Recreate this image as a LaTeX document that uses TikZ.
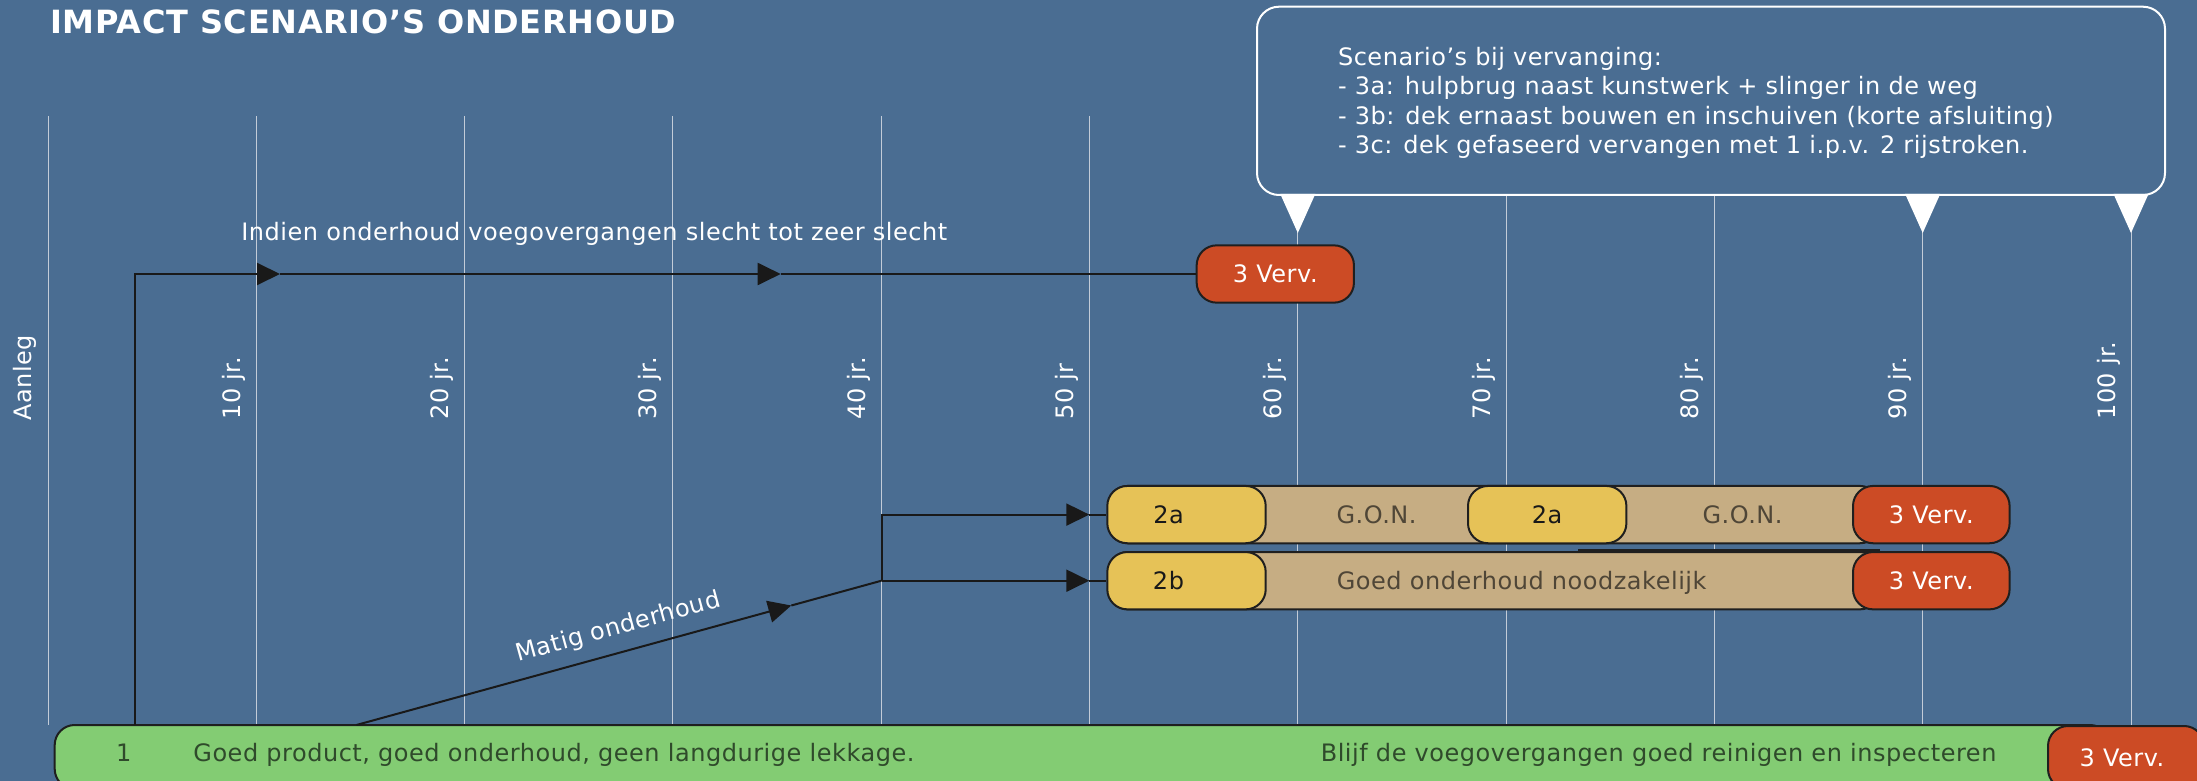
\documentclass[tikz,border=0pt]{standalone}
\usepackage{fontspec}
\setmainfont[LetterSpace=2.2]{DejaVu Sans}
\usetikzlibrary{arrows.meta}
\definecolor{bgc}{HTML}{4A6D92}
\definecolor{gridc}{HTML}{C3CCD8}
\definecolor{redc}{HTML}{CC4B25}
\definecolor{yelc}{HTML}{E6C257}
\definecolor{tanc}{HTML}{C6AD83}
\definecolor{grnc}{HTML}{83CC73}
\definecolor{tant}{HTML}{4F4637}
\definecolor{grnt}{HTML}{2F4A2B}
\newcommand{\PX}{*0.5pt}
\begin{document}
\begin{tikzpicture}[x=0.5pt,y=-0.5pt,
  txt/.style={font=\fontsize{12}{14}\selectfont, inner sep=0},
  wtxt/.style={txt, text=white},
  bar/.style={draw=black!88, line width=1pt, rounded corners=10pt, inner sep=0,
    font=\fontsize{12}{14}\selectfont},
  ybox/.style={bar, fill=yelc, text=black!90, minimum height=57.3\PX, minimum width=158.4\PX},
  tbox/.style={bar, fill=tanc, minimum height=57.3\PX},
  rbox/.style={bar, fill=redc, text=white, minimum height=57.3\PX, minimum width=156.6\PX},
  gridline/.style={gridc, line width=0.5pt},
  conn/.style={line width=1pt, black!90},
  tip/.style={-{Triangle[length=11.5pt,width=11pt]}},
]
\useasboundingbox (0,0) rectangle (2197,781);
\fill[bgc] (0,0) rectangle (2197,781);
\clip (0,0) rectangle (2197,781);

% grid
\foreach \k in {0,...,10}
  \draw[gridline] ({48+208.3*\k},116) -- ({48+208.3*\k},725);

% axis labels
\node[wtxt, rotate=90, anchor=base west] (lab0) at (32,421) {Aanleg};
\foreach \k/\t in {1/10 jr.,2/20 jr.,3/30 jr.,4/40 jr.,5/50 jr,6/60 jr.,7/70 jr.,8/80 jr.,9/90 jr.,10/100 jr.}
  \node[wtxt, rotate=90, anchor=base west] (lab\k) at ({48+208.3*\k-16},420) {\t};

% title
\node[anchor=base west, inner sep=0, text=white, font=\fontsize{16}{19}\selectfont\bfseries]
  (title) at (50,33.3) {IMPACT SCENARIO’S ONDERHOUD};

% callout
\draw[white, line width=1pt, fill=bgc, rounded corners=11pt] (1257,6.7) rectangle (2165,195);
\foreach \x in {1297.8,1922.7,2131}
  \fill[white] (\x-17.5,194) -- (\x+17.5,194) -- (\x,233) -- cycle;
\node[wtxt, align=left, anchor=north west, font=\fontsize{12}{14.75}\selectfont]
  (note) at (1337.6,46.4)
  {Scenario’s bij vervanging:\\
   - 3a: hulpbrug naast kunstwerk + slinger in de weg\\
   - 3b: dek ernaast bouwen en inschuiven (korte afsluiting)\\
   - 3c: dek gefaseerd vervangen met 1 i.p.v. 2 rijstroken.};

% top scenario
\node[rbox, minimum width=157.3\PX] (rv1) at (1275.3,274) {3 Verv.};
\node[wtxt, anchor=base west] (ind) at (241,240.7)
  {Indien onderhoud voegovergangen slecht tot zeer slecht};

% rows 2a / 2b
\node[tbox, minimum width=772\PX] (tanA) at (1494,514.6) {};
\node[tbox, minimum width=772\PX] (tanB) at (1494,580.7) {};
\draw[black!88, line width=1.5pt] (1578,550.3) -- (1880,550.3);
\node[ybox] (ya1) at (1186.5,514.6) {2a\hspace*{18pt}};
\node[ybox] (ya2) at (1547.2,514.6) {2a};
\node[ybox] (yb) at (1186.5,580.7) {2b\hspace*{18pt}};
\node[rbox] (rv2) at (1931.3,514.6) {3 Verv.};
\node[rbox] (rv3) at (1931.3,580.7) {3 Verv.};
\node[txt, text=tant] (gon1) at (1376.6,514.6) {G.O.N.};
\node[txt, text=tant] (gon2) at (1742.6,514.6) {G.O.N.};
\node[txt, text=tant, anchor=base west] (gon3) at (1336.4,589.3) {Goed onderhoud noodzakelijk};

% bottom bar
\node[bar, fill=grnc, minimum width=2055.3\PX, minimum height=64\PX] (green) at (1082.35,757) {};
\node[rbox, minimum width=156\PX, minimum height=63\PX] (rv4) at (2126,757.5) {3 Verv.\hspace*{4pt}};
\node[txt, text=grnt, anchor=base west] (n1) at (115.7,761.7) {1};
\node[txt, text=grnt, anchor=base west] (g1) at (193,761.7)
  {Goed product, goed onderhoud, geen langdurige lekkage.};
\node[txt, text=grnt, anchor=base west] (g2) at (1320.4,761.7)
  {Blijf de voegovergangen goed reinigen en inspecteren};

% connectors: top path
\coordinate (s1) at (134.5,725);
\coordinate (a1) at (280,274);
\coordinate (a2) at (780.7,274);
\draw[conn,tip] (s1) |- (a1);
\draw[conn,tip] (a1) -- (a2);
\draw[conn] (a2) -- (rv1.west);

% connectors: matig onderhoud
\coordinate (s2) at (356.4,725);
\coordinate (m1) at (791.3,605.5);
\coordinate (j1) at (881.5,580.7);
\coordinate (a3) at (1089.3,514.6);
\coordinate (a4) at (1089.3,580.7);
\draw[conn,tip] (s2) -- (m1);
\draw[conn] (m1) -- (j1);
\draw[conn,tip] (j1) |- (a3);
\draw[conn] (a3) -- (ya1.west);
\draw[conn,tip] (j1) -- (a4);
\draw[conn] (a4) -- (yb.west);
\node[wtxt, rotate=15.37, anchor=base] (matig) at (620,634) {Matig onderhoud};
\end{tikzpicture}
\end{document}
